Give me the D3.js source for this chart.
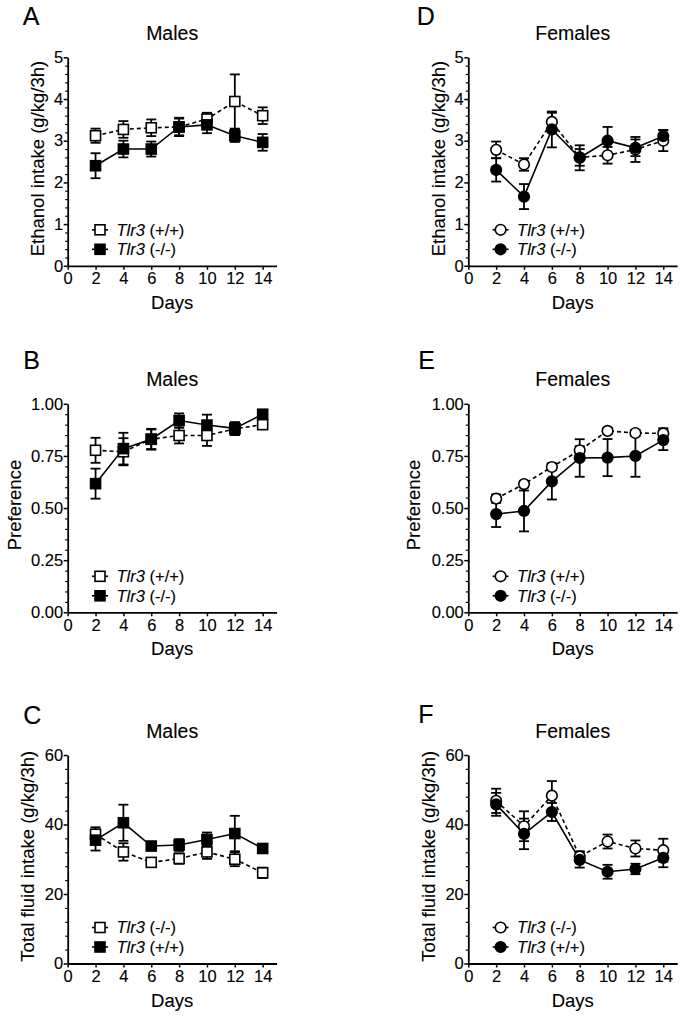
<!DOCTYPE html>
<html><head><meta charset="utf-8">
<script src="https://cdn.jsdelivr.net/npm/d3@7"></script>
<style>
body{margin:0;background:#fff}
svg text{font-family:"Liberation Sans",Arial,Helvetica,sans-serif;fill:#000;stroke:#000;stroke-width:0.12px}
</style>
</head><body>
<svg id="chart" width="683" height="1019"></svg>
<script>
// ---------------- data ----------------
const days = [2, 4, 6, 8, 10, 12, 14];
const xTicks = [0, 2, 4, 6, 8, 10, 12, 14];

const ethTicks = [0, 1, 2, 3, 4, 5];
const prefTicks = [0, 0.25, 0.5, 0.75, 1.0];
const fluidTicks = [0, 20, 40, 60];

// Panel A: males ethanol intake
const mEthWT = [3.12, 3.27, 3.31, 3.33, 3.52, 3.94, 3.60];
const mEthWTerr = [0.17, 0.20, 0.20, 0.20, 0.15, 0.65, 0.20];
const mEthKO = [2.40, 2.80, 2.80, 3.33, 3.38, 3.12, 2.96];
const mEthKOerr = [0.30, 0.20, 0.18, 0.22, 0.20, 0.15, 0.20];

// Panel D: females ethanol intake
const fEthWT = [2.78, 2.43, 3.45, 2.60, 2.65, 2.79, 3.00];
const fEthWTerr = [0.20, 0.15, 0.22, 0.20, 0.20, 0.30, 0.25];
const fEthKO = [2.30, 1.66, 3.27, 2.59, 3.00, 2.83, 3.11];
const fEthKOerr = [0.28, 0.30, 0.43, 0.30, 0.33, 0.20, 0.15];

// Panel B: males preference
const mPrefWT = [0.777, 0.770, 0.830, 0.848, 0.848, 0.880, 0.900];
const mPrefWTerr = [0.060, 0.065, 0.047, 0.038, 0.050, 0.030, 0.020];
const mPrefKO = [0.617, 0.785, 0.830, 0.920, 0.898, 0.882, 0.950];
const mPrefKOerr = [0.072, 0.076, 0.050, 0.034, 0.050, 0.030, 0.015];

// Panel E: females preference
const fPrefWT = [0.545, 0.615, 0.697, 0.777, 0.870, 0.860, 0.858];
const fPrefWTerr = [0.020, 0.015, 0.015, 0.020, 0.015, 0.015, 0.025];
const fPrefKO = [0.471, 0.486, 0.628, 0.740, 0.742, 0.750, 0.826];
const fPrefKOerr = [0.062, 0.098, 0.087, 0.090, 0.089, 0.100, 0.048];

// Panel C: males total fluid intake (open = -/-, filled = +/+)
const mFluidKO = [37.2, 32.1, 29.1, 30.2, 32.1, 30.0, 26.1];
const mFluidKOerr = [2.0, 2.5, 1.0, 1.5, 2.0, 2.0, 1.5];
const mFluidWT = [35.5, 40.5, 33.8, 34.1, 35.7, 37.4, 33.1];
const mFluidWTerr = [3.0, 5.2, 1.0, 1.7, 2.0, 5.1, 1.3];

// Panel F: females total fluid intake (open = -/-, filled = +/+)
const fFluidKO = [46.8, 39.5, 48.3, 30.8, 35.1, 33.1, 32.6];
const fFluidKOerr = [3.5, 4.3, 4.2, 1.5, 2.0, 2.3, 3.3];
const fFluidWT = [45.8, 37.3, 43.6, 29.8, 26.4, 27.2, 30.4];
const fFluidWTerr = [3.3, 4.4, 2.6, 2.2, 2.0, 1.5, 2.7];

const lblWT = "(+/+)", lblKO = "(-/-)";

// ---------------- layout ----------------
const svg = d3.select("#chart");
const PW = 208.9, PH = 208.5;

const panels = [
  {letter:"A", lx:22.7, ly:25, title:"Males", x:67.7, y:57.3, ylab:"Ethanol intake (g/kg/3h)", yoff:23.5,
   ymax:5, ticks:ethTicks, fmt:d3.format("d"), marker:"square",
   open:{v:mEthWT, e:mEthWTerr, lab:lblWT}, filled:{v:mEthKO, e:mEthKOerr, lab:lblKO}},
  {letter:"D", lx:416.7, ly:25, title:"Females", x:468.3, y:57.3, ylab:"Ethanol intake (g/kg/3h)", yoff:23.5,
   ymax:5, ticks:ethTicks, fmt:d3.format("d"), marker:"circle",
   open:{v:fEthWT, e:fEthWTerr, lab:lblWT}, filled:{v:fEthKO, e:fEthKOerr, lab:lblKO}},
  {letter:"B", lx:23.3, ly:369.3, title:"Males", x:67.7, y:403.8, ylab:"Preference", yoff:47,
   ymax:1, ticks:prefTicks, fmt:d3.format(".2f"), marker:"square",
   open:{v:mPrefWT, e:mPrefWTerr, lab:lblWT}, filled:{v:mPrefKO, e:mPrefKOerr, lab:lblKO}},
  {letter:"E", lx:418.3, ly:369.3, title:"Females", x:468.3, y:403.8, ylab:"Preference", yoff:48,
   ymax:1, ticks:prefTicks, fmt:d3.format(".2f"), marker:"circle",
   open:{v:fPrefWT, e:fPrefWTerr, lab:lblWT}, filled:{v:fPrefKO, e:fPrefKOerr, lab:lblKO}},
  {letter:"C", lx:23.3, ly:724, title:"Males", x:67.7, y:755, ylab:"Total fluid intake (g/kg/3h)", yoff:33.5,
   ymax:60, ticks:fluidTicks, fmt:d3.format("d"), marker:"square",
   open:{v:mFluidKO, e:mFluidKOerr, lab:lblKO}, filled:{v:mFluidWT, e:mFluidWTerr, lab:lblWT}},
  {letter:"F", lx:418.3, ly:723, title:"Females", x:468.3, y:755, ylab:"Total fluid intake (g/kg/3h)", yoff:33.7,
   ymax:60, ticks:fluidTicks, fmt:d3.format("d"), marker:"circle",
   open:{v:fFluidKO, e:fFluidKOerr, lab:lblKO}, filled:{v:fFluidWT, e:fFluidWTerr, lab:lblWT}}
];

const SW = 1.6;

function drawMarker(g, type, cx, cy, filled) {
  if (type === "square") {
    g.append("rect").attr("x", cx - 5).attr("y", cy - 5).attr("width", 10).attr("height", 10)
      .attr("fill", filled ? "#000" : "#fff").attr("stroke", "#000").attr("stroke-width", SW);
  } else {
    g.append("circle").attr("cx", cx).attr("cy", cy).attr("r", 5.3)
      .attr("fill", filled ? "#000" : "#fff").attr("stroke", "#000").attr("stroke-width", SW);
  }
}

panels.forEach(p => {
  const g = svg.append("g").attr("transform", `translate(${p.x},${p.y})`);
  const x = d3.scaleLinear().domain([0, 15]).range([0, PW]);
  const y = d3.scaleLinear().domain([0, p.ymax]).range([PH, 0]);

  // panel letter & title
  svg.append("text").attr("x", p.lx).attr("y", p.ly).attr("font-size", 25).text(p.letter);
  svg.append("text").attr("x", p.x + PW / 2).attr("y", p.y - 17.5).attr("text-anchor", "middle")
    .attr("font-size", 19.5).text(p.title);

  // minor y ticks
  const step = p.ticks[1] - p.ticks[0];
  const minor = [];
  for (let i = 0; i < p.ticks.length - 1; i++)
    for (let k = 1; k < 5; k++) minor.push(p.ticks[i] + step * k / 5);
  const gm = g.append("g").call(d3.axisLeft(y).tickValues(minor).tickSize(2.5).tickFormat(""));
  gm.select(".domain").remove();
  gm.selectAll("line").attr("stroke-width", 1.2);

  // axes
  const gx = g.append("g").attr("transform", `translate(0,${PH})`)
    .call(d3.axisBottom(x).tickValues(xTicks).tickFormat(d3.format("d")).tickSize(4).tickSizeOuter(0).tickPadding(2.5));
  const gy = g.append("g")
    .call(d3.axisLeft(y).tickValues(p.ticks).tickFormat(p.fmt).tickSize(4).tickSizeOuter(0).tickPadding(0.5));
  [gx, gy].forEach(a => {
    a.attr("font-family", null).attr("font-size", null);
    a.select(".domain").attr("stroke-width", 1.8);
    a.selectAll(".tick line").attr("stroke-width", 1.5);
    a.selectAll(".tick text").attr("font-size", 16.5).attr("fill", "#000");
  });

  // axis titles
  g.append("text").attr("transform", `translate(${-p.yoff},${PH / 2 - 3}) rotate(-90)`)
    .attr("text-anchor", "middle").attr("font-size", 18.5).text(p.ylab);
  g.append("text").attr("x", PW / 2).attr("y", PH + 43).attr("text-anchor", "middle")
    .attr("font-size", 18.5).text("Days");

  const series = [
    {s: p.open, filled: false, dash: "4,3"},
    {s: p.filled, filled: true, dash: null}
  ];
  const line = d3.line().x((d, i) => x(days[i])).y(d => y(d));

  // lines
  series.forEach(se => {
    g.append("path").datum(se.s.v).attr("d", line).attr("fill", "none")
      .attr("stroke", "#000").attr("stroke-width", SW).attr("stroke-dasharray", se.dash);
  });
  // error bars
  series.forEach(se => {
    se.s.v.forEach((v, i) => {
      const cx = x(days[i]), y1 = y(v + se.s.e[i]), y2 = y(v - se.s.e[i]);
      const eg = g.append("g").attr("stroke", "#000").attr("stroke-width", 1.8);
      eg.append("line").attr("x1", cx).attr("x2", cx).attr("y1", y1).attr("y2", y2);
      eg.append("line").attr("x1", cx - 5).attr("x2", cx + 5).attr("y1", y1).attr("y2", y1);
      eg.append("line").attr("x1", cx - 5).attr("x2", cx + 5).attr("y1", y2).attr("y2", y2);
    });
  });
  // markers
  series.forEach(se => {
    se.s.v.forEach((v, i) => drawMarker(g, p.marker, x(days[i]), y(v), se.filled));
  });

  // legend
  const lgx = 32.3, rows = [PH - 36, PH - 16.5];
  series.forEach((se, k) => {
    const ly = rows[k];
    g.append("line").attr("x1", lgx - 8).attr("x2", lgx + 8).attr("y1", ly).attr("y2", ly)
      .attr("stroke", "#000").attr("stroke-width", SW);
    drawMarker(g, p.marker, lgx, ly, se.filled);
    const t = g.append("text").attr("x", lgx + 16.5).attr("y", ly + 5.8).attr("font-size", 16.5);
    t.append("tspan").attr("font-style", "italic").text("Tlr3");
    t.append("tspan").text(" " + se.s.lab);
  });
});
</script>
</body></html>
